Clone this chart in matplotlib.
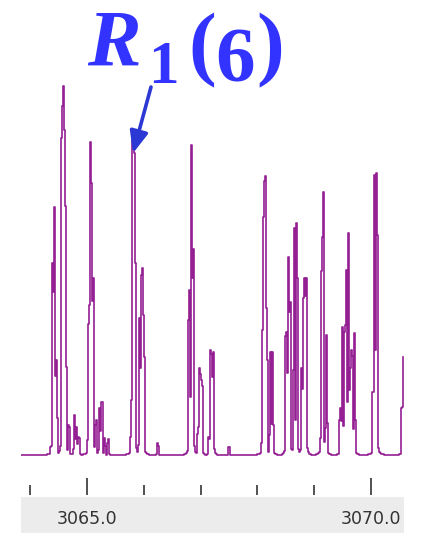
import numpy as np
import matplotlib.pyplot as plt
from matplotlib.ticker import MultipleLocator, FormatStrFormatter
from matplotlib.patches import Rectangle

# line list: wavenumber (cm-1) and relative intensity
peak_pos = [
    3064.369, 3064.400, 3064.430, 3064.466, 3064.563, 3064.594, 3064.624,
    3064.683, 3064.783, 3064.818, 3064.859,
    3065.030, 3065.060, 3065.083, 3065.109, 3065.162, 3065.224, 3065.265,
    3065.312, 3065.374,
    3065.783, 3065.811, 3065.841, 3065.929, 3065.970, 3066.000, 3066.247,
    3066.799, 3066.841, 3066.869, 3066.958, 3066.988, 3067.023,
    3067.146, 3067.182, 3067.222, 3067.499,
    3068.076, 3068.104, 3068.134, 3068.164, 3068.231, 3068.266,
    3068.504, 3068.545, 3068.575, 3068.651, 3068.693,
    3068.781, 3068.822, 3068.857,
    3069.131, 3069.157, 3069.216,
    3069.457, 3069.497, 3069.533, 3069.563, 3069.603, 3069.633, 3069.663,
    3069.709,
    3070.034, 3070.062, 3070.101, 3070.545, 3070.577,
]
peak_int = [
    2.2, 52.3, 67.5, 25.7, 94.6, 100.0, 67.5,
    8.1, 10.8, 7.6, 4.9,
    35.5, 85.1, 73.7, 48.0, 9.5, 12.7, 14.4,
    4.6, 4.3,
    14.9, 86.7, 81.8, 37.1, 50.7, 37.9, 3.3,
    44.7, 84.3, 56.1, 7.6, 23.6, 20.3,
    4.9, 28.5, 27.9, 2.2,
    3.3, 64.5, 75.6, 39.8, 27.9, 27.9,
    33.3, 53.7, 41.5, 61.5, 63.1,
    23.6, 48.0, 48.0,
    50.0, 71.3, 32.5,
    12.7, 34.7, 33.3, 50.1, 60.4, 23.6, 28.5,
    33.1,
    17.1, 75.9, 76.7, 13.0, 26.6,
]

x_lo, x_hi = 3063.84, 3070.58
major_step = 5.0
minor_step = 1.0
arrow_target = 3065.811

# render the line list the way the instrument display does:
# narrow cores plus faint wings, max-decimated into one value per screen pixel
px = (x_hi - x_lo) / 383.0
sub = 20
fine = np.arange(x_lo, x_hi, px / sub)
pos = np.array(peak_pos)[:, None]
amp = np.array(peak_int)[:, None]
d = fine[None, :] - pos
shape = 0.95 * np.exp(-0.5 * (d / (0.3 * px)) ** 2) + 0.05 / (1 + (d / (1.2 * px)) ** 2)
prof = (amp * shape).max(axis=0)
n = len(fine) // sub
wn = fine[:n * sub].reshape(n, sub).mean(axis=1)
trace = prof[:n * sub].reshape(n, sub).max(axis=1)

fig = plt.figure(figsize=(4.23, 5.33), dpi=100)
W, H = 423, 533
ax = fig.add_axes([21 / W, 1 - 495 / H, 383 / W, 415 / H])

# grey label band under the plot
fig.add_artist(Rectangle((21 / W, 0), 383 / W, 36 / H, transform=fig.transFigure,
                         facecolor="#ececec", edgecolor="none", zorder=0))

ax.plot(wn, trace, color="#931f93", lw=1.2, drawstyle="steps-mid")
ax.set_xlim(x_lo, x_hi)
ax.set_ylim(-10.84, 101.63)
ax.set_facecolor("none")

for s in ax.spines.values():
    s.set_visible(False)
ax.set_yticks([])
ax.xaxis.set_major_locator(MultipleLocator(major_step))
ax.xaxis.set_minor_locator(MultipleLocator(minor_step))
ax.xaxis.set_major_formatter(FormatStrFormatter("%.1f"))
ax.tick_params(axis="x", which="major", direction="in", length=12.5, width=1.2,
               color="#333333", labelsize=12.5, labelcolor="#333333", pad=11)
ax.tick_params(axis="x", which="minor", direction="in", length=7.2, width=1.2,
               color="#333333")

# line label R1(6) with arrow
blue = "#3333ff"
serif = "Liberation Serif"
fig.text(87 / W, 1 - 66 / H, "R", fontsize=58, fontweight="bold",
         fontstyle="italic", family=serif, color=blue)
fig.text(148 / W, 1 - 83 / H, "1", fontsize=44, fontweight="bold",
         family=serif, color=blue)
fig.text(188 / W, 1 - 70 / H, "(", fontsize=60, fontweight="bold",
         family=serif, color=blue)
fig.text(215 / W, 1 - 82 / H, "6", fontsize=57, fontweight="bold",
         family=serif, color=blue)
fig.text(256 / W, 1 - 70 / H, ")", fontsize=60, fontweight="bold",
         family=serif, color=blue)
ax.annotate("", xy=(arrow_target, 81.8), xytext=(151, H - 87),
            textcoords="figure pixels",
            arrowprops=dict(arrowstyle="-|>,head_length=1.3,head_width=0.55",
                            mutation_scale=10, color="#2c38d4", lw=2.6,
                            shrinkA=0, shrinkB=0))

fig.savefig("out.png", dpi=100)
